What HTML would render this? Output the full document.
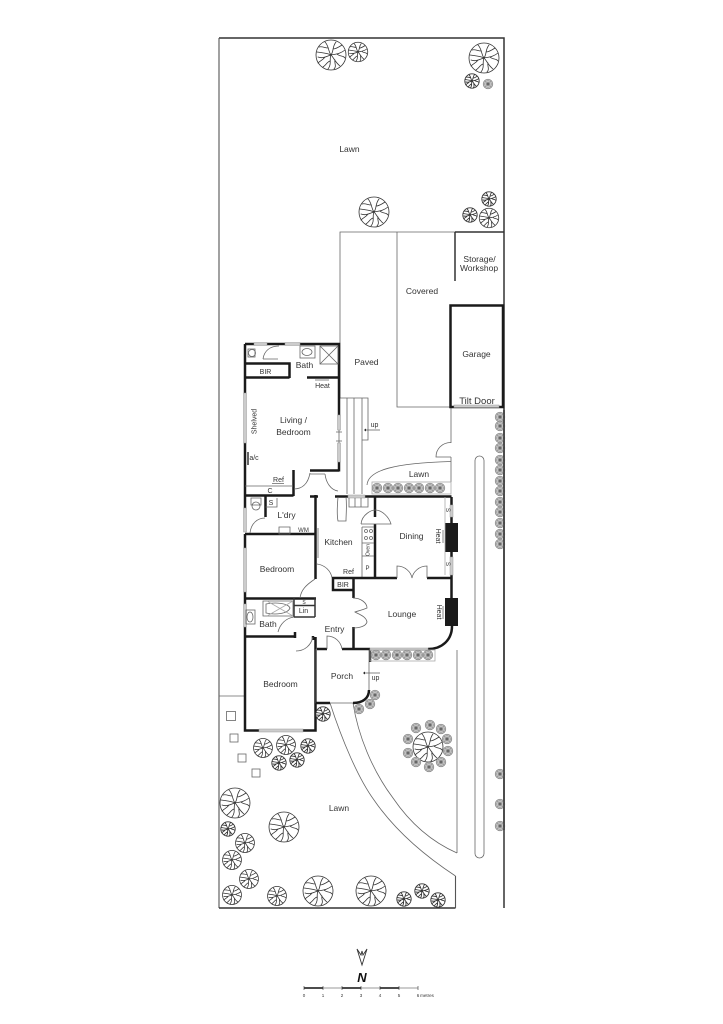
<!DOCTYPE html>
<html lang="en"><head><meta charset="utf-8"><title>Floor plan</title>
<style>
html,body{margin:0;padding:0;background:#fff}
svg{display:block}
text{font-family:"Liberation Sans",sans-serif;font-size:8.5px;fill:#333;text-anchor:middle}
.w{fill:none;stroke:#1a1a1a;stroke-width:2.5;stroke-linecap:butt}
.m{fill:none;stroke:#333;stroke-width:1.5}
.l{fill:none;stroke:#555;stroke-width:1.1}
.t{fill:none;stroke:#666;stroke-width:.8}
.g{fill:none;stroke:#aaa;stroke-width:.8}
.win{fill:#ccc;stroke:#999;stroke-width:.5}
.s{font-size:7px}
</style></head><body>
<svg width="723" height="1024" viewBox="0 0 723 1024">
<defs>
<g id="t" fill="none" stroke="#333" stroke-linecap="round">
<circle r="15" fill="#fff"/>
<path d="M0 0C-3-4-2-9-6-13M-3-7C-6-7-9-9-12-8M0 0C3-4 1-8 5-13M2-6C5-6 8-8 11-10M0 0C5-1 9-1 14-5M6-1C9 2 12 0 14 3M0 0C3 3 4 7 9 11M4 5C3 8 6 11 3 14M0 0C-2 4 1 9-3 14M-1 6C-4 7-5 10-8 12M0 0C-4 1-8 4-13 2M-6 2C-8 5-10 5-13 8M0 0C-4-2-8-2-14-3"/>
</g>
<g id="g">
<circle r="4.800" fill="#bbb" stroke="#888" stroke-width=".7"/>
<path d="M-3.500 0H3.500M0-3.500V3.500M-2.500-2.500L2.500 2.500M-2.500 2.500L2.500-2.500" stroke="#666" stroke-width=".7"/>
<circle r="2.400" fill="none" stroke="#eee" stroke-width=".5"/>
</g>
</defs>

<!-- boundary -->
<path d="M219 38H504V908" class="m"/>
<path d="M219 38V908" class="l"/>
<path d="M219 908H455.500" class="m"/>
<path d="M455.500 908V876" class="l"/>
<path d="M219 696H245" class="t"/>
<path d="M455.500 876C425 856 396 832 374 800C358 778 342 740 330 703" class="t"/>
<path d="M457 853C432 842 410 823 393 798C372 770 358 735 353 703" class="t"/>
<path d="M457 853V650M451 407V443M451 457V482" class="t"/>
<rect x="475" y="456" width="9" height="402" rx="4.500" class="t"/>

<!-- paved / covered -->
<path d="M340 398V232H504M397 232V407H450" class="t"/>
<path d="M455 232H504" class="m"/>
<path d="M455 232V281" class="m"/>
<path d="M455 305.500H450.500V407H503V305.500H455" class="w"/>
<rect x="454" y="405" width="45" height="2.500" class="win"/>

<!-- steps -->
<path d="M340 398H368V440H362M347 398V494M354 398V494M362 398V494" class="t"/>
<path d="M365 430H380" class="t"/><path d="M364 430l2-1.500v3z" fill="#222"/>

<!-- lawn arc + door arch -->
<path d="M367 485C368 470 395 463 451 461.500" class="t"/>
<path d="M451 442.500C442 442.500 436 449 436 457H451" class="t"/>
<rect x="372" y="482" width="79" height="12" class="g"/>

<!-- upper wing -->
<path d="M245 344V495M245 344H339V415M245 363.500H289.500V378M245 377.500H289.500M307 377.500H339M339 462V471.500M310 470.500H339M293.500 470V496M245 495.500H293.500" class="w"/>
<rect x="254" y="342.500" width="13" height="3" class="win"/><rect x="285" y="342.500" width="15" height="3" class="win"/>
<rect x="243.500" y="393" width="3" height="50" class="win"/>
<rect x="337.500" y="415" width="3" height="15" class="win"/><rect x="337.500" y="443" width="3" height="19" class="win"/>
<path d="M339 430V443M336 432H342M336 441H342" class="t"/>
<path d="M245 486H293M272 483.500H284M315 380H329" class="t"/>
<path d="M263 359C264 351 270 346 279 346M263 359H278" class="t"/>
<rect x="300" y="346" width="15" height="12" class="t"/><ellipse cx="307" cy="352" rx="5" ry="3.500" class="t"/>
<rect x="320" y="346" width="18" height="18" class="t"/><path d="M320 346L338 364M338 346L320 364" class="t"/>
<rect x="248" y="349" width="7" height="8" class="t"/><circle cx="252" cy="353" r="3.500" class="t"/>
<path d="M248 452V465" class="m"/>
<path d="M294 489C302 489 308 484 310 473M325 474C326 483 331 490 338 491M325 474H310" class="t"/>

<!-- middle -->
<path d="M315.500 495V579M310 496.500H318M335 496.500H348M365 496.500H451.500M375 497V517M375 524V577.500M265.500 496V517M245 534H316M245 495V508M245 598.500H316M245 534V548M245 592V636" class="w"/>
<rect x="243.500" y="508" width="3" height="24" class="win"/><rect x="243.500" y="548" width="3" height="44" class="win"/><rect x="243.500" y="604" width="3" height="23" class="win"/>
<rect x="348" y="495" width="17" height="3" class="win"/>
<path d="M338 497C337 508 337 516 338 521H346C346 514 347 506 346 497M349 498V507H368V498M355 498V507M361 498V507" class="t"/>
<path d="M361 524C362 514 372 510 375 510C382 510 389 517 391 524H361" class="t"/>
<path d="M277 498V507H265.500M279 527H290V534H279Z" class="t"/>
<path d="M250 533C251 523 258 518 265 518M251 498H261V505H251Z" class="t"/>
<circle cx="256" cy="506" r="4" class="t"/>
<path d="M318 528V558" class="t"/>
<!-- kitchen units -->
<path d="M362 527V578M362 527H374M362 543H374M362 556H374" class="t"/>
<circle cx="366" cy="531" r="1.500" class="t"/><circle cx="371" cy="531" r="1.500" class="t"/><circle cx="366" cy="538" r="1.500" class="t"/><circle cx="371" cy="538" r="1.500" class="t"/>
<path d="M317 564C325 565 331 571 332 578M300 598C301 590 306 585 315 579" class="t"/>

<!-- dining east -->
<path d="M451.500 497V505M451.500 515V523M451.500 552V557M451.500 575V598" class="w"/>
<rect x="450" y="505" width="3" height="12" class="win"/><rect x="450" y="557" width="3" height="18" class="win"/>
<rect x="445" y="523" width="13" height="29" fill="#1a1a1a"/>
<rect x="445" y="598" width="13" height="28" fill="#1a1a1a"/>
<path d="M443 530V543M443 606V619" class="t"/>
<path d="M445 497V575" class="g"/>

<!-- lounge & entry -->
<path d="M332 578H397M427 578H451.500M333 578V590H353.500M353.500 578V598M353.500 627V649M317 649H327M342 649H370M370 649V662M428 649C442 649 452 640 452 626" class="w"/>
<rect x="370" y="648" width="58" height="2.500" class="win"/>
<path d="M397 578V566C405 566 411 572 412 578C413 572 419 566 427 566V578" class="t"/>
<path d="M353 598C361 598 367 603 367 608C362 610 358 611 355 612C358 614 366 616 367 622C366 626 360 628 353 628" class="t"/>
<path d="M327 649V636C335 636 341 642 342 649" class="t"/>
<rect x="370" y="650" width="65" height="11" class="g"/>

<!-- bath -->
<path d="M294 598V617M315 598V617M294 605.500H315M294 617H315" class="m"/>
<path d="M263 601H293V616H263ZM266 604C275 602 288 603 290 608C288 614 275 615 266 613Z" class="t"/>
<path d="M267 601L293 616M267 616L293 601" class="g"/>
<rect x="246" y="610" width="9" height="14" class="t"/><ellipse cx="250" cy="617" rx="3" ry="5" class="t"/>
<path d="M278 632C280 624 286 618 294 617" class="t"/>

<!-- bedroom 3 -->
<path d="M245 636V730.500H259M303 730.500H315.500V637M245 636.500H295M313 636V640M295 632V638" class="w"/>
<rect x="259" y="729" width="44" height="3" class="win"/>
<path d="M296 651C305 651 311 645 313 637" class="t"/>

<!-- porch -->
<path d="M316 649V703H353M369 662V690" class="t"/>
<path d="M316 703H330M369 690C369 698 363 703 353 703" class="w"/>
<path d="M364 673H380" class="t"/><path d="M363 673l2-1.500v3z" fill="#222"/>

<!-- big trees -->
<g stroke-width=".8">
<use href="#t" x="331" y="55"/><use href="#t" x="484" y="58"/><use href="#t" x="374" y="212"/>
<use href="#t" x="235" y="803"/><use href="#t" x="284" y="827"/><use href="#t" x="318" y="891"/><use href="#t" x="371" y="891"/><use href="#t" x="428" y="747"/>
</g>
<!-- medium trees r=9.5 -->
<g stroke-width="1.200">
<use href="#t" transform="translate(358 52) scale(.65)"/><use href="#t" transform="translate(489 218) scale(.65)"/>
<use href="#t" transform="translate(245 843) scale(.63)"/><use href="#t" transform="translate(232 860) scale(.63)"/><use href="#t" transform="translate(249 879) scale(.63)"/><use href="#t" transform="translate(232 895) scale(.63)"/><use href="#t" transform="translate(277 896) scale(.63)"/>
<use href="#t" transform="translate(263 748) scale(.63)"/><use href="#t" transform="translate(286 745) scale(.63)"/>
</g>
<!-- small trees r=7 -->
<g stroke-width="1.800">
<use href="#t" transform="translate(472 81) scale(.48)"/><use href="#t" transform="translate(489 199) scale(.48)"/><use href="#t" transform="translate(470 215) scale(.48)"/>
<use href="#t" transform="translate(228 829) scale(.48)"/><use href="#t" transform="translate(404 899) scale(.48)"/><use href="#t" transform="translate(422 891) scale(.48)"/><use href="#t" transform="translate(438 900) scale(.48)"/>
<use href="#t" transform="translate(308 746) scale(.48)"/><use href="#t" transform="translate(279 763) scale(.48)"/><use href="#t" transform="translate(297 760) scale(.48)"/><use href="#t" transform="translate(323 714) scale(.48)"/>
</g>
<!-- grey shrubs -->
<use href="#g" x="488" y="84"/>
<use href="#g" x="416" y="728"/><use href="#g" x="430" y="725"/><use href="#g" x="441" y="729"/><use href="#g" x="447" y="739"/><use href="#g" x="448" y="751"/><use href="#g" x="441" y="762"/><use href="#g" x="429" y="767"/><use href="#g" x="416" y="762"/><use href="#g" x="408" y="753"/><use href="#g" x="408" y="739"/>
<use href="#g" x="375" y="695"/><use href="#g" x="370" y="704"/><use href="#g" x="359" y="709"/>
<use href="#g" x="377" y="488"/><use href="#g" x="388" y="488"/><use href="#g" x="398" y="488"/><use href="#g" x="409" y="488"/><use href="#g" x="419" y="488"/><use href="#g" x="430" y="488"/><use href="#g" x="440" y="488"/>
<use href="#g" x="376" y="655"/><use href="#g" x="386" y="655"/><use href="#g" x="397" y="655"/><use href="#g" x="407" y="655"/><use href="#g" x="418" y="655"/><use href="#g" x="428" y="655"/>
<use href="#g" x="500" y="417"/><use href="#g" x="500" y="426"/><use href="#g" x="500" y="438"/><use href="#g" x="500" y="448"/><use href="#g" x="500" y="460"/><use href="#g" x="500" y="470"/><use href="#g" x="500" y="481"/><use href="#g" x="500" y="491"/><use href="#g" x="500" y="502"/><use href="#g" x="500" y="512"/><use href="#g" x="500" y="523"/><use href="#g" x="500" y="534"/><use href="#g" x="500" y="544"/><use href="#g" x="500" y="774"/><use href="#g" x="500" y="804"/><use href="#g" x="500" y="826"/>
<path d="M504 410V830" class="m"/>

<!-- pavers -->
<rect x="226.500" y="711.500" width="9" height="9" class="t"/><rect x="230" y="734" width="8" height="8" class="t"/><rect x="238" y="754" width="8" height="8" class="t"/><rect x="252" y="769" width="8" height="8" class="t"/>

<!-- labels -->
<text x="349.500" y="152">Lawn</text>
<text x="479.500" y="262">Storage/</text><text x="479" y="271">Workshop</text>
<text x="422" y="294">Covered</text><text x="476.500" y="357">Garage</text><text x="366.500" y="365">Paved</text>
<text x="477" y="404" style="font-size:9.500px">Tilt Door</text>
<text x="304.500" y="368">Bath</text><text x="265.500" y="374" class="s">BIR</text><text x="322.500" y="388" class="s">Heat</text>
<text transform="translate(256.500 421.500) rotate(-90)" class="s">Shelved</text>
<text x="293.500" y="423">Living /</text><text x="293.500" y="435">Bedroom</text>
<text x="254" y="460" class="s">a/c</text><text x="278.500" y="482" class="s">Ref</text><text x="270" y="493" class="s">C</text><text x="271" y="505" class="s">S</text>
<text x="286.500" y="518">L'dry</text><text x="303.500" y="532" style="font-size:6px">WM</text>
<text x="338.500" y="545">Kitchen</text><text x="277" y="572">Bedroom</text><text x="348.500" y="574" class="s">Ref</text><text x="343" y="587" class="s">BIR</text>
<text x="303.500" y="613" class="s">Lin</text><text x="304" y="604" style="font-size:5px">S</text><text x="268" y="627">Bath</text><text x="334.500" y="632">Entry</text>
<text x="411.500" y="539">Dining</text><text x="402" y="617">Lounge</text><text x="342" y="679">Porch</text><text x="280.500" y="687">Bedroom</text>
<text x="419" y="477">Lawn</text><text x="339" y="811">Lawn</text>
<text x="374.500" y="427" class="s">up</text><text x="375.500" y="680" class="s">up</text>
<text x="367.500" y="570" style="font-size:6px">P</text>
<text transform="translate(369.500 550) rotate(-90)" style="font-size:5px">Oven</text>
<text transform="translate(436 536) rotate(90)" class="s">Heat</text>
<text transform="translate(437 612) rotate(90)" class="s">Heat</text>
<text transform="translate(446 510) rotate(90)" style="font-size:6px">S</text>
<text transform="translate(446 564) rotate(90)" style="font-size:6px">S</text>

<!-- north + scale -->
<path d="M357 949L362 965L367 949L363 955L362 951L361 955Z" fill="#fff" stroke="#333" stroke-width=".9"/>
<text x="362" y="982" style="font-size:13px;font-weight:bold;font-style:italic;fill:#111">N</text>
<path d="M304 988H323M342 988H361M380 988H399" stroke="#111" stroke-width="1.500"/>
<path d="M323 988H342M361 988H380M399 988H418" stroke="#bbb" stroke-width="1.500"/>
<path d="M304 986V990M323 986V990M342 986V990M361 986V990M380 986V990M399 986V990M418 986V990" stroke="#333" stroke-width=".6"/>
<text x="304" y="997" style="font-size:4.500px">0</text><text x="323" y="997" style="font-size:4.500px">1</text><text x="342" y="997" style="font-size:4.500px">2</text><text x="361" y="997" style="font-size:4.500px">3</text><text x="380" y="997" style="font-size:4.500px">4</text><text x="399" y="997" style="font-size:4.500px">5</text><text x="418" y="997" style="font-size:4.500px">6</text><text x="427" y="997" style="font-size:4.500px">metres</text>
</svg>
</body></html>
